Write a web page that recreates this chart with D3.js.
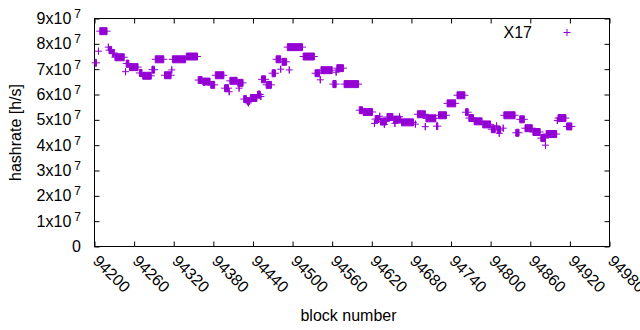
<!DOCTYPE html>
<html>
<head>
<meta charset="utf-8">
<script src="https://cdn.jsdelivr.net/npm/d3@7"></script>
<style>
	body { margin: 0; background: #fff; }
	svg { display: block; font-family: 'Liberation Sans', Arial, sans-serif; }
	.axis path, .axis line { stroke: #000; }
</style>
</head>
<body>
<svg id="chart" width="640" height="330"></svg>
<script>
// runs of blocks sharing one hashrate value (start block, end block, hashrate)
const runStart = [
	94201, 94206, 94208, 94221, 94222, 94227, 94231, 94247, 94248, 94253,
	94268, 94273, 94287, 94292, 94306, 94317, 94318, 94339, 94357, 94364,
	94366, 94376, 94383, 94397, 94404, 94405, 94417, 94419, 94426, 94431,
	94433, 94436, 94447, 94452, 94453, 94460, 94469, 94475, 94482, 94484,
	94492, 94495, 94516, 94534, 94542, 94543, 94561, 94566, 94567, 94578,
	94601, 94607, 94624, 94625, 94632, 94633, 94639, 94643, 94653, 94655,
	94662, 94665, 94686, 94689, 94701, 94702, 94718, 94721, 94734, 94749,
	94762, 94767, 94775, 94788, 94801, 94809, 94810, 94813, 94819, 94820,
	94838, 94844, 94852, 94864, 94876, 94883, 94884, 94901, 94902, 94915
];
const runEnd = [
	94203, 94206, 94219, 94221, 94226, 94230, 94245, 94247, 94252, 94266,
	94272, 94286, 94291, 94305, 94316, 94317, 94338, 94356, 94363, 94375,
	94366, 94382, 94396, 94403, 94404, 94416, 94425, 94419, 94430, 94435,
	94433, 94446, 94451, 94452, 94459, 94468, 94474, 94482, 94482, 94491,
	94515, 94495, 94533, 94541, 94542, 94560, 94566, 94566, 94577, 94600,
	94606, 94621, 94624, 94631, 94632, 94642, 94639, 94652, 94664, 94655,
	94662, 94683, 94686, 94701, 94701, 94717, 94720, 94733, 94747, 94761,
	94766, 94774, 94787, 94800, 94807, 94809, 94815, 94813, 94819, 94837,
	94843, 94851, 94863, 94875, 94883, 94883, 94900, 94901, 94914, 94923
];
const runRate = [
	7.25, 7.71, 8.50, 7.87, 7.75, 7.64, 7.47, 6.90, 7.22, 7.08,
	6.85, 6.74, 6.98, 7.39, 6.76, 6.97, 7.39, 7.50, 6.57, 6.51,
	6.47, 6.38, 6.76, 6.25, 6.11, 6.54, 6.46, 6.25, 5.82, 5.74,
	5.67, 5.86, 6.00, 5.92, 6.60, 6.38, 6.84, 7.39, 7.00, 7.29,
	7.87, 6.97, 7.50, 6.84, 6.58, 6.96, 6.41, 6.88, 7.04, 6.41,
	5.38, 5.31, 4.86, 5.03, 5.14, 4.93, 4.82, 5.11, 5.01, 4.86,
	5.12, 4.90, 4.83, 5.22, 4.73, 5.06, 4.75, 5.18, 5.65, 5.97,
	5.30, 5.07, 4.94, 4.82, 4.63, 4.76, 4.60, 4.47, 4.67, 5.18,
	4.49, 5.02, 4.67, 4.52, 4.28, 4.00, 4.44, 4.97, 5.07, 4.74
].map(d => d * 1e7);

const xTicks = d3.range(94200, 94981, 60);
const yTicks = d3.range(0, 9e7 + 1, 1e7);
const SERIES = 'X17';
const COLOR = '#9400d3';
const PT = 3.5; // half size of the plus marker

const margin = { top: 18.5, right: 30.5, bottom: 83.5, left: 94.5 };
const $svg = d3.select('#chart');
const width = 640;
const height = 330;

const x = d3.scaleLinear().domain([94200, 94980]).range([margin.left, width - margin.right]);
const y = d3.scaleLinear().domain([0, 9e7]).range([height - margin.bottom, margin.top]);

function plusPath(s, e, v) {
	const x0 = x(s);
	const x1 = x(e);
	const yy = y(v);
	return `M${x0 - PT},${yy}H${x1 + PT}M${x0},${yy - PT}V${yy + PT}H${x1}V${yy - PT}Z`;
}

function drawAxes() {
	const inner = -5;
	const $xb = $svg.append('g')
		.attr('class', 'axis')
		.attr('transform', `translate(0,${y(0)})`)
		.call(d3.axisBottom(x).tickValues(xTicks).tickSize(inner).tickSizeOuter(0).tickFormat(d3.format('d')));
	$xb.select('.domain').remove();
	$xb.selectAll('text')
		.attr('font-size', 16)
		.attr('fill', '#000')
		.attr('text-anchor', 'start')
		.attr('y', 0)
		.attr('dy', '0.35em')
		.attr('transform', 'translate(1,11.5) rotate(45)');

	const $xt = $svg.append('g')
		.attr('class', 'axis')
		.attr('transform', `translate(0,${y(9e7)})`)
		.call(d3.axisTop(x).tickValues(xTicks).tickSize(inner).tickSizeOuter(0).tickFormat(''));
	$xt.select('.domain').remove();

	const $yl = $svg.append('g')
		.attr('class', 'axis')
		.attr('transform', `translate(${x(94200)},0)`)
		.call(d3.axisLeft(y).tickValues(yTicks).tickSize(inner).tickSizeOuter(0).tickFormat(''));
	$yl.select('.domain').remove();

	const $yr = $svg.append('g')
		.attr('class', 'axis')
		.attr('transform', `translate(${x(94980)},0)`)
		.call(d3.axisRight(y).tickValues(yTicks).tickSize(inner).tickSizeOuter(0).tickFormat(''));
	$yr.select('.domain').remove();

	// y tick labels like 9x10^7
	const $lab = $svg.append('g')
		.attr('font-size', 16)
		.attr('fill', '#000')
		.selectAll('text')
		.data(yTicks)
		.enter()
		.append('text')
		.attr('x', 81)
		.attr('y', d => y(d))
		.attr('dy', '0.35em')
		.attr('text-anchor', 'end');
	$lab.append('tspan').text(d => (d === 0 ? '0' : `${d / 1e7}x10`));
	$lab.filter(d => d > 0)
		.append('tspan')
		.attr('dx', 3)
		.attr('dy', -6)
		.attr('font-size', 12)
		.text('7');

	// border
	$svg.append('rect')
		.attr('x', x(94200))
		.attr('y', y(9e7))
		.attr('width', x(94980) - x(94200))
		.attr('height', y(0) - y(9e7))
		.attr('fill', 'none')
		.attr('stroke', '#000');

	$svg.append('text')
		.attr('font-size', 16)
		.attr('text-anchor', 'middle')
		.attr('transform', `translate(21,${(y(0) + y(9e7)) / 2}) rotate(-90)`)
		.text('hashrate [h/s]');

	$svg.append('text')
		.attr('font-size', 16)
		.attr('text-anchor', 'middle')
		.attr('x', 348.5)
		.attr('y', 321)
		.text('block number');
}

function drawData() {
	const runs = runStart.map((s, i) => ({ s, e: runEnd[i], v: runRate[i] }));
	$svg.append('g')
		.selectAll('path')
		.data(runs)
		.enter()
		.append('path')
		.attr('d', d => plusPath(d.s, d.e, d.v))
		.attr('fill', COLOR)
		.attr('stroke', COLOR)
		.attr('stroke-width', 1);

	// key
	$svg.append('text')
		.attr('font-size', 16)
		.attr('text-anchor', 'end')
		.attr('x', 532)
		.attr('y', 37.5)
		.text(SERIES);
	$svg.append('path')
		.attr('d', `M${567 - PT},32.5H${567 + PT}M567,${32.5 - PT}V${32.5 + PT}`)
		.attr('stroke', COLOR)
		.attr('stroke-width', 1);
}

drawAxes();
drawData();
</script>
</body>
</html>
